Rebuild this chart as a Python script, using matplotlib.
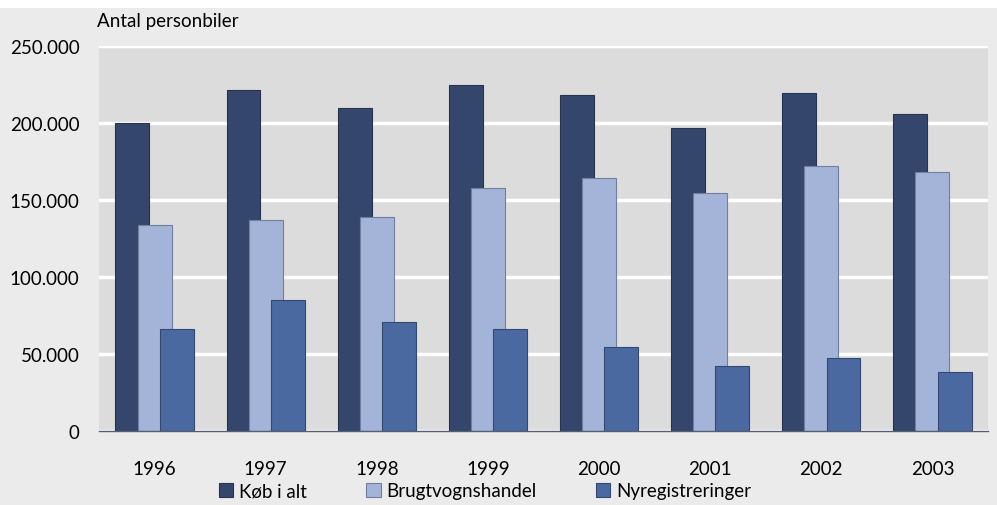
import matplotlib
matplotlib.use("Agg")
import matplotlib.pyplot as plt
import numpy as np
from matplotlib.patches import Rectangle

years = ["1996", "1997", "1998", "1999", "2000", "2001", "2002", "2003"]
koeb_i_alt = [200000, 221500, 209500, 224500, 218000, 196500, 219500, 206000]
brugtvognshandel = [134000, 137000, 139000, 158000, 164500, 154500, 172000, 168000]
nyregistreringer = [66500, 85000, 70500, 66000, 54500, 42000, 47500, 38000]
series_names = ["Køb i alt", "Brugtvognshandel", "Nyregistreringer"]
yticks = [0, 50000, 100000, 150000, 200000, 250000]

plt.rcParams['font.family'] = ['Lato', 'DejaVu Sans']
FS = 13.5

fig = plt.figure(figsize=(9.97, 5.06), dpi=100, facecolor="#ebebeb")
fig.patches.append(Rectangle((0, 1 - 9/506), 1, 9/506, transform=fig.transFigure,
                             facecolor="white", edgecolor="none", zorder=0))
ax = fig.add_axes([99/997, 74/506, 889/997, 385/506])
ax.set_facecolor("#dcdcdc")

x = np.arange(len(years)) + 0.5
w = 0.305
off = 0.2
colors = ["#34466b", "#a3b4d8", "#4a69a1"]
edges = ["#26344f", "#6f7f9f", "#34496f"]
data = [koeb_i_alt, brugtvognshandel, nyregistreringer]
for i, (vals, c, e, name) in enumerate(zip(data, colors, edges, series_names)):
    ax.bar(x + (i - 1) * off, vals, width=w, color=c, edgecolor=e, linewidth=0.8,
           label=name, zorder=3 + i)

ax.set_xlim(0, len(years))
ax.set_ylim(0, 250000)
ax.set_yticks(yticks)
ax.set_yticklabels([f"{v:,}".replace(",", ".") for v in yticks], fontsize=FS)
ax.set_xticks(x)
ax.set_xticklabels(years, fontsize=FS)
ax.tick_params(axis='both', length=0, colors="black")
ax.tick_params(axis='y', pad=14)
ax.tick_params(axis='x', pad=21)
ax.yaxis.grid(True, color="white", linewidth=2.5, zorder=1)
ax.set_axisbelow(True)
for s in ["left", "right", "top"]:
    ax.spines[s].set_visible(False)
ax.spines["bottom"].set_color("#555f73")
ax.spines["bottom"].set_linewidth(1.0)
ax.spines["bottom"].set_zorder(10)

fig.text(97/997, 1 - 22/506, "Antal personbiler", fontsize=FS, ha="left", va="center")

leg = fig.legend(loc="center", bbox_to_anchor=(485/997, 1 - 492/506), ncol=3, frameon=False,
                 fontsize=FS, handlelength=0.75, handleheight=0.75, handletextpad=0.3,
                 columnspacing=3.2)

fig.savefig("out.png", dpi=100, facecolor=fig.get_facecolor())
